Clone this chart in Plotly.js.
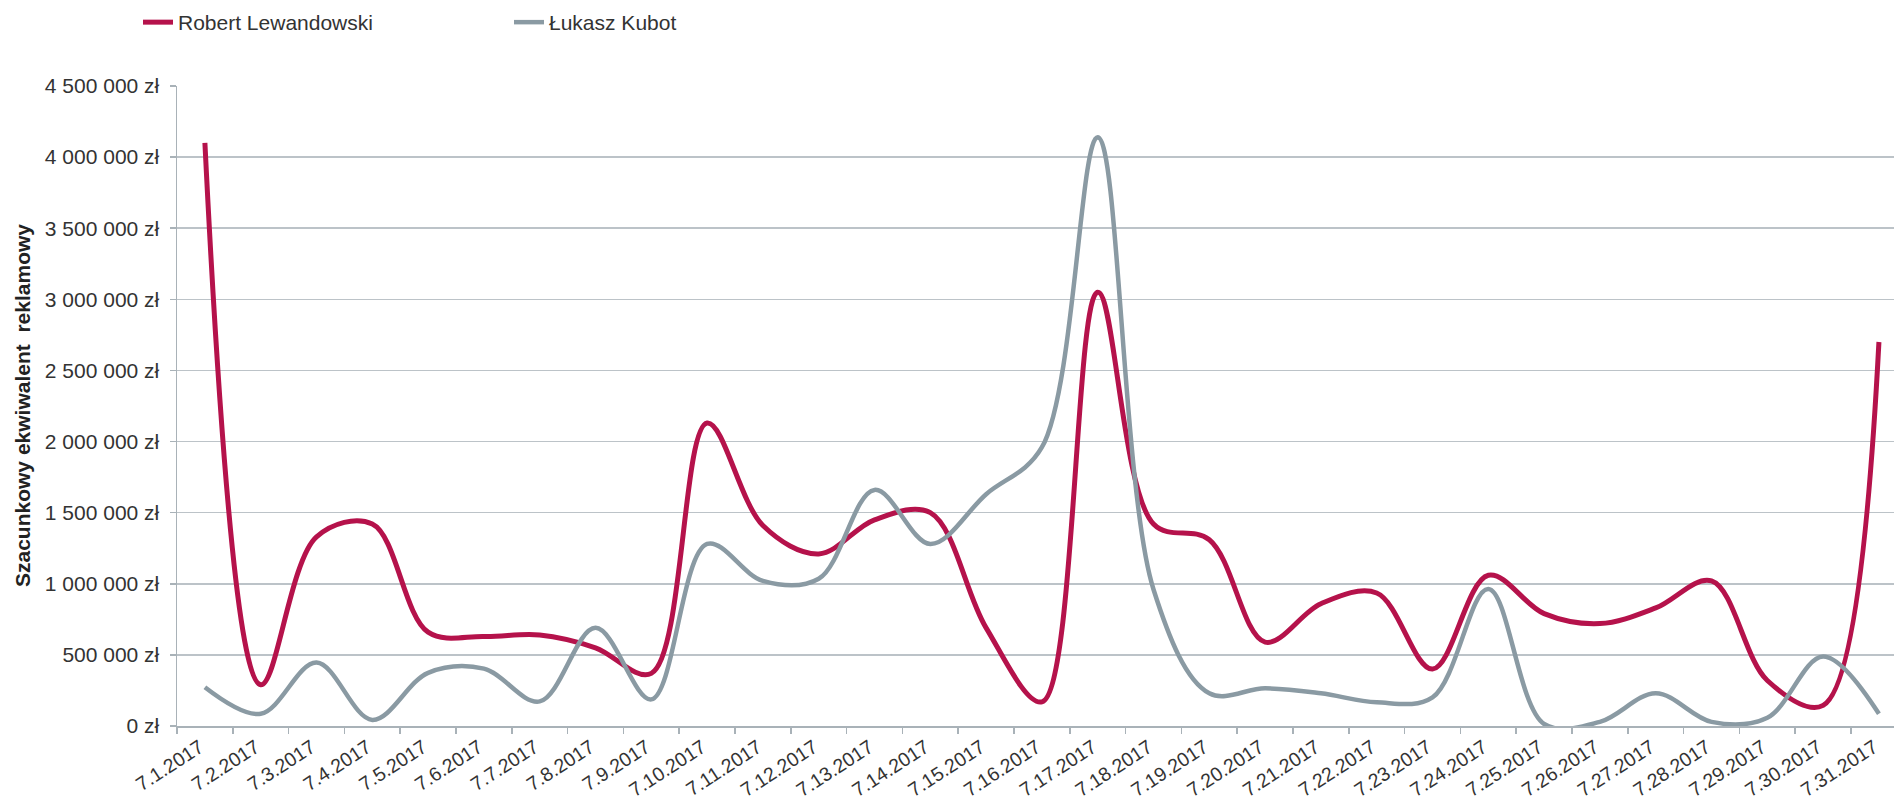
<!DOCTYPE html>
<html>
<head>
<meta charset="utf-8">
<script src="https://cdn.plot.ly/plotly-3.0.1.min.js"></script>
<style>
html,body{margin:0;padding:0;background:#fff;}
#chart{width:1894px;height:808px;}
</style>
</head>
<body>
<div id="chart"></div>
<script>
const dates = ['7.1.2017','7.2.2017','7.3.2017','7.4.2017','7.5.2017','7.6.2017','7.7.2017','7.8.2017','7.9.2017','7.10.2017',
  '7.11.2017','7.12.2017','7.13.2017','7.14.2017','7.15.2017','7.16.2017','7.17.2017','7.18.2017','7.19.2017','7.20.2017',
  '7.21.2017','7.22.2017','7.23.2017','7.24.2017','7.25.2017','7.26.2017','7.27.2017','7.28.2017','7.29.2017','7.30.2017','7.31.2017'];

const lewandowski = [4100000, 290000, 1330000, 1420000, 660000, 630000, 640000, 550000, 370000, 2130000,
  1410000, 1210000, 1450000, 1500000, 690000, 170000, 3050000, 1420000, 1310000, 590000,
  860000, 935000, 400000, 1060000, 790000, 720000, 830000, 1020000, 320000, 145000, 2700000];

const kubot = [273000, 86000, 446000, 43000, 374000, 403000, 173000, 690000, 187000, 1280000,
  1020000, 1035000, 1660000, 1280000, 1630000, 1960000, 4140000, 960000, 230000, 265000,
  230000, 167000, 201000, 964000, 14000, 29000, 230000, 29000, 58000, 489000, 86000];

const yTickVals = [0, 500000, 1000000, 1500000, 2000000, 2500000, 3000000, 3500000, 4000000, 4500000];
const yTickText = ['0 zł', '500 000 zł', '1 000 000 zł', '1 500 000 zł', '2 000 000 zł', '2 500 000 zł',
  '3 000 000 zł', '3 500 000 zł', '4 000 000 zł', '4 500 000 zł'];

const seriesNames = ['Robert Lewandowski', 'Łukasz Kubot'];
const yTitle = 'Szacunkowy ekwiwalent\u00a0 reklamowy';

const FONT = 'Liberation Sans, Arial, sans-serif';
const TXT = '#333333';
const GRID = '#bcc3c8';
const AXIS = '#a9b2b8';

const traces = [
  {x: dates, y: lewandowski, name: seriesNames[0], type: 'scatter', mode: 'lines',
   line: {color: '#b5124b', width: 5, shape: 'spline', smoothing: 1}},
  {x: dates, y: kubot, name: seriesNames[1], type: 'scatter', mode: 'lines',
   line: {color: '#8a9aa3', width: 4.5, shape: 'spline', smoothing: 1}}
];

const layout = {
  width: 1894, height: 808,
  margin: {l: 177, r: 0, t: 86, b: 82},
  paper_bgcolor: '#ffffff', plot_bgcolor: '#ffffff',
  font: {family: FONT, size: 20, color: TXT},
  showlegend: true,
  legend: {orientation: 'h', xref: 'container', yref: 'container', x: 138/1894, y: 1 - 2/808,
    xanchor: 'left', yanchor: 'top', font: {family: FONT, size: 21, color: TXT},
    entrywidth: 326, entrywidthmode: 'pixels', bgcolor: 'rgba(0,0,0,0)'},
  xaxis: {type: 'category', range: [-0.5, 30.27], tickson: 'boundaries', ticks: 'outside', ticklen: 6,
    tickcolor: AXIS, tickwidth: 1.5, showline: true, linecolor: AXIS, linewidth: 1.5, showgrid: false,
    zeroline: false, tickangle: -33, ticklabelstandoff: 1, ticklabelshift: -5,
    tickfont: {family: FONT, size: 19.5, color: TXT}, fixedrange: true},
  yaxis: {range: [0, 4500000], tickvals: yTickVals, ticktext: yTickText, showgrid: true, gridcolor: GRID,
    gridwidth: 1.5, showline: true, linecolor: AXIS, linewidth: 1.5, ticks: 'outside', ticklen: 6,
    tickcolor: AXIS, tickwidth: 1.5, zeroline: false, ticklabelstandoff: 6,
    tickfont: {family: FONT, size: 21, color: TXT}, fixedrange: true},
  annotations: [{text: '<b>' + yTitle + '</b>', xref: 'paper', yref: 'paper', x: (22 - 177) / 1717, y: 0.5,
    xanchor: 'center', yanchor: 'middle', textangle: -90, showarrow: false,
    font: {family: FONT, size: 21, color: '#222222'}}]
};

Plotly.newPlot('chart', traces, layout, {displayModeBar: false, staticPlot: true});
</script>
</body>
</html>
